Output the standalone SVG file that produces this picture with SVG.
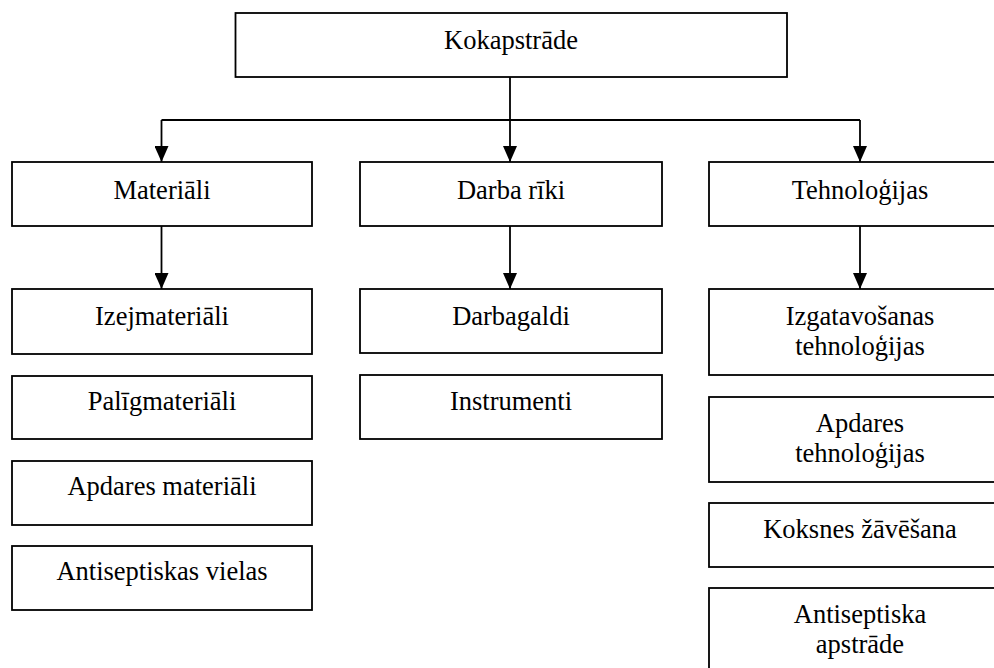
<svg xmlns="http://www.w3.org/2000/svg" width="994" height="668" viewBox="0 0 994 668">
  <defs>
    <marker id="arrow" viewBox="0 0 16 14" refX="16" refY="7" markerWidth="16" markerHeight="14" markerUnits="userSpaceOnUse" orient="auto">
      <path d="M0,0 L16,7 L0,14 Z" fill="#000"/>
    </marker>
    <style>
      .box { fill: #fff; stroke: #000; stroke-width: 1.8; }
      .lbl { font-family: "Liberation Serif", "Times New Roman", serif; font-size: 26.5px; fill: #000; text-anchor: middle; }
      .wire { fill: none; stroke: #000; stroke-width: 1.8; }
    </style>
  </defs>
  <rect width="994" height="668" fill="#fff"/>

  <!-- connectors -->
  <g id="connectors">
    <path class="wire" d="M510,77 V120 M161.5,120 H860"/>
    <line class="wire" x1="161.5" y1="120" x2="161.5" y2="162" marker-end="url(#arrow)"/>
    <line class="wire" x1="510" y1="120" x2="510" y2="162" marker-end="url(#arrow)"/>
    <line class="wire" x1="860" y1="120" x2="860" y2="162" marker-end="url(#arrow)"/>
    <line class="wire" x1="161.5" y1="226" x2="161.5" y2="289" marker-end="url(#arrow)"/>
    <line class="wire" x1="510" y1="226" x2="510" y2="289" marker-end="url(#arrow)"/>
    <line class="wire" x1="860" y1="226" x2="860" y2="289" marker-end="url(#arrow)"/>
  </g>

  <!-- root -->
  <g id="kokapstrade">
    <rect class="box" x="235.5" y="13" width="551.5" height="64"/>
    <text class="lbl" x="511" y="49">Kokapstrāde</text>
  </g>

  <!-- materials column -->
  <g id="materiali">
    <rect class="box" x="12" y="162" width="300" height="64"/>
    <text class="lbl" x="162" y="199">Materiāli</text>
  </g>
  <g id="izejmateriali">
    <rect class="box" x="12" y="289" width="300" height="65"/>
    <text class="lbl" x="162" y="325">Izejmateriāli</text>
  </g>
  <g id="paligmateriali">
    <rect class="box" x="12" y="376" width="300" height="63"/>
    <text class="lbl" x="162" y="410">Palīgmateriāli</text>
  </g>
  <g id="apdares-materiali">
    <rect class="box" x="12" y="461" width="300" height="64"/>
    <text class="lbl" x="162" y="495">Apdares materiāli</text>
  </g>
  <g id="antiseptiskas-vielas">
    <rect class="box" x="12" y="546" width="300" height="64"/>
    <text class="lbl" x="162" y="580">Antiseptiskas vielas</text>
  </g>

  <!-- tools column -->
  <g id="darba-riki">
    <rect class="box" x="360" y="162" width="302" height="64"/>
    <text class="lbl" x="511" y="199">Darba rīki</text>
  </g>
  <g id="darbagaldi">
    <rect class="box" x="360" y="289" width="302" height="64"/>
    <text class="lbl" x="511" y="325">Darbagaldi</text>
  </g>
  <g id="instrumenti">
    <rect class="box" x="360" y="375" width="302" height="64"/>
    <text class="lbl" x="511" y="410">Instrumenti</text>
  </g>

  <!-- technologies column -->
  <g id="tehnologijas">
    <rect class="box" x="709" y="162" width="302" height="64"/>
    <text class="lbl" x="860" y="199">Tehnoloģijas</text>
  </g>
  <g id="izgatavosanas-tehnologijas">
    <rect class="box" x="709" y="289" width="302" height="86"/>
    <text class="lbl" x="860" y="325">Izgatavošanas</text>
    <text class="lbl" x="860" y="355">tehnoloģijas</text>
  </g>
  <g id="apdares-tehnologijas">
    <rect class="box" x="709" y="397" width="302" height="85"/>
    <text class="lbl" x="860" y="432">Apdares</text>
    <text class="lbl" x="860" y="462">tehnoloģijas</text>
  </g>
  <g id="koksnes-zavesana">
    <rect class="box" x="709" y="503" width="302" height="64"/>
    <text class="lbl" x="860" y="538">Koksnes žāvēšana</text>
  </g>
  <g id="antiseptiska-apstrade">
    <rect class="box" x="709" y="588" width="302" height="100"/>
    <text class="lbl" x="860" y="623">Antiseptiska</text>
    <text class="lbl" x="860" y="653">apstrāde</text>
  </g>
</svg>
